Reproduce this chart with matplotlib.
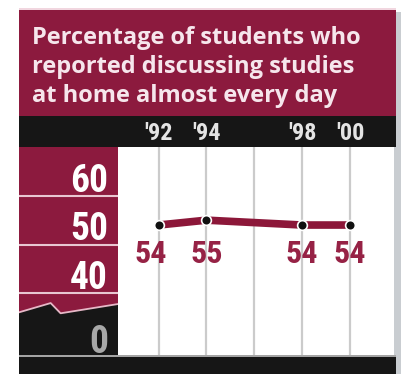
import matplotlib
matplotlib.use("Agg")
import matplotlib.pyplot as plt
from matplotlib.patches import Rectangle, Polygon

# Data
years = [1992, 1994, 1998, 2000]
values = [54, 55, 54, 54]
year_ticks = [1992, 1994, 1996, 1998, 2000]
year_labels = {1992: "'92", 1994: "'94", 1998: "'98", 2000: "'00"}
scale_values = [60, 50, 40]
title_lines = ["Percentage of students who",
               "reported discussing studies",
               "at home almost every day"]

MAROON = "#8c1a3e"
LINE_RED = "#8c1739"
LABEL_RED = "#962245"
BLACK = "#161616"

W, H = 404, 376
fig = plt.figure(figsize=(W / 100, H / 100), dpi=100)
fig.patch.set_facecolor("white")

COND = ["Roboto Condensed", "Liberation Sans Narrow", "DejaVu Sans"]
TITLE_FONT = ["Open Sans", "DejaVu Sans"]


def fr(x0, y0, x1, y1):
    return [x0 / W, 1 - y1 / H, (x1 - x0) / W, (y1 - y0) / H]


def rect(x0, y0, x1, y1, color, z=-5):
    r = Rectangle((x0 / W, 1 - y1 / H), (x1 - x0) / W, (y1 - y0) / H,
                  transform=fig.transFigure, facecolor=color,
                  edgecolor="none", zorder=z)
    fig.add_artist(r)


# Frame pieces: shadow, title block, header band, footer band
rect(394, 12, 401, 374, "#c9cdd1", z=-6)
rect(19, 8, 396, 10, "#f1d6df")
rect(19, 10, 396, 116, MAROON)
rect(19, 116, 396, 147, BLACK)
rect(19, 355, 396, 357, "#a4a4a4")
rect(19, 357, 396, 374, BLACK)

for i, line in enumerate(title_lines):
    fig.text(32 / W, 1 - (38 + i * 29) / H, line, color="#f6e6ec",
             fontsize=17, fontweight="bold", family=TITLE_FONT,
             ha="left", va="center", zorder=5)

YMIN, YMAX = 27.35, 70.0

# Main plot area
ax = fig.add_axes(fr(118, 147, 393, 355))
ax.set_facecolor("white")
ax.set_xlim(1990.3, 2001.8)
ax.set_ylim(YMIN, YMAX)
for s in ax.spines.values():
    s.set_visible(False)
ax.set_xticks([])
ax.set_yticks([])
for yr in year_ticks:
    ax.axvline(yr, color="#cbcbcb", lw=1.6, zorder=1)

ax.plot(years, values, color=LINE_RED, lw=5.5, solid_capstyle="butt",
        zorder=3)
ax.plot(years, values, "o", color="#111111", ms=7, mec="white", mew=1.2,
        zorder=4)

label_dx = [-8, 0, 0, 0]
for yr, v, dx in zip(years, values, label_dx):
    ax.annotate(str(v), xy=(yr, 48.1), xytext=(dx * 0.72, 0),
                textcoords="offset points", ha="center", va="center",
                color=LABEL_RED, fontsize=23, fontweight="bold",
                fontstretch="condensed", family=COND, zorder=5)

for yr, lab in year_labels.items():
    ax.text(yr, 1 + 14 / 208, lab, transform=ax.get_xaxis_transform(),
            ha="center", va="center", color="#e4e4e4", fontsize=17.5,
            fontweight="bold", fontstretch="condensed", family=COND,
            clip_on=False, zorder=6)

# Left value scale panel
axl = fig.add_axes(fr(19, 147, 118, 355))
axl.set_xlim(0, 1)
axl.set_ylim(YMIN, YMAX)
axl.set_axis_off()
axl.add_patch(Rectangle((0, YMIN), 1, YMAX - YMIN, facecolor=MAROON,
                        edgecolor="none", zorder=0))
for v in scale_values:
    axl.axhline(v, color="#e9c7d2", lw=1.5, zorder=1)
    axl.annotate(str(v), xy=(0.9, v), xytext=(0, 3),
                 textcoords="offset points", ha="right", va="baseline",
                 color="white", fontsize=27, fontweight="bold",
                 fontstretch="condensed", family=COND, zorder=3)

# axis break: black block with a jagged top edge
brk_x = [0.0, 0.32, 0.42, 1.0]
brk_y = [36.1, 38.0, 35.9, 37.8]
poly = Polygon([(0, YMIN)] + list(zip(brk_x, brk_y)) + [(1, YMIN)],
               closed=True, facecolor=BLACK, edgecolor="none", zorder=2)
axl.add_patch(poly)
axl.plot(brk_x, brk_y, color="#e6b8c7", lw=1.3, zorder=3)
axl.text(0.9, YMIN + 0.4, "0", ha="right", va="baseline", color="#a8a8a8",
         fontsize=27, fontweight="bold", fontstretch="condensed",
         family=COND, zorder=4)

fig.savefig("out.png", dpi=100)
